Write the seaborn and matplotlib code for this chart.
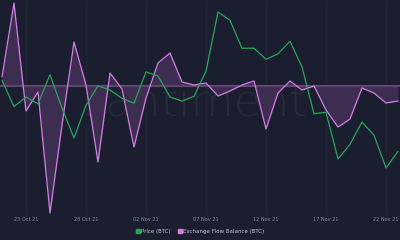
import numpy as np
import pandas as pd
import matplotlib
matplotlib.use("Agg")
import matplotlib.pyplot as plt
import matplotlib.dates as mdates
import seaborn as sns
from matplotlib.lines import Line2D

# ---- data ----
start_date = "2021-10-21"
price_btc = [62600, 60700, 61400, 60900, 63000, 60600, 58450, 60800, 62200, 61900,
             61300, 60950, 63200, 62900, 61400, 61100, 61450, 63250, 67500, 66900,
             64900, 64900, 64100, 64500, 65400, 63550, 60200, 60300, 56950, 58000,
             59600, 58650, 56300, 57500]
flow_balance = [900, 8300, -2500, -600, -12700, -3900, 4400, 100, -7600, 1300,
                -300, -6100, -1200, 2300, 3300, 400, 100, 300, -1000, -500,
                100, 500, -4300, -700, 500, -400, 0, -2400, -4100, -3300,
                -200, -700, -1700, -1500]
tick_dates = ["2021-10-23", "2021-10-28", "2021-11-02", "2021-11-07",
              "2021-11-12", "2021-11-17", "2021-11-22"]
series_names = ["Price (BTC)", "Exchange Flow Balance (BTC)"]

dates = pd.date_range(start_date, periods=len(price_btc), freq="D")
df = pd.DataFrame({"date": dates, "price": price_btc, "flow": flow_balance})

BG = "#1b1e2e"
GREEN = "#26a65b"
PURPLE = "#d47fe6"
FILL = "#3f2e52"
TXT = "#8a8d99"

sns.set_theme(style="dark")
plt.rcParams["font.family"] = ["DejaVu Sans"]

fig = plt.figure(figsize=(4, 2.4), dpi=100, facecolor=BG)
ax = fig.add_axes([0, 1 - 214 / 240, 1, 214 / 240])
ax.set_facecolor(BG)
ax2 = ax.twinx()

# flow balance with fill to zero
ax.fill_between(df["date"], df["flow"], 0, color=FILL, alpha=0.95, lw=0, zorder=1)
ax.axhline(0, color="#5e4470", lw=1.6, zorder=2)
sns.lineplot(data=df, x="date", y="flow", ax=ax, color=PURPLE, lw=0.9, zorder=3,
             legend=False)
sns.lineplot(data=df, x="date", y="price", ax=ax2, color=GREEN, lw=0.9, zorder=4,
             legend=False)

ax.set_ylim(-12800, 8600)
ax2.set_ylim(52996, 68362)
x0 = dates[0] - pd.Timedelta(hours=4)
x1 = dates[0] + pd.Timedelta(hours=24 * 398 / 12)
ax.set_xlim(x0, x1)

for a in (ax, ax2):
    a.set_xlabel("")
    a.set_ylabel("")
    a.set_yticks([])
    for s in a.spines.values():
        s.set_visible(False)

ax.set_xticks(pd.to_datetime(tick_dates))
ax.xaxis.set_major_formatter(mdates.DateFormatter("%d %b %y"))
ax.tick_params(axis="x", labelsize=3.6, colors=TXT, length=0, pad=2)
ax.grid(axis="x", color="#2a2e40", lw=0.5, ls=(0, (2, 2)))
ax.grid(axis="y", visible=False)
ax2.grid(False)

# watermark
ax.text(0.505, 0.52, "santiment.", transform=ax.transAxes, ha="center", va="center",
        fontsize=32, color="white", alpha=0.055, zorder=0, fontweight="light")

# legend
handles = [Line2D([], [], marker="s", ls="", color=GREEN, markersize=3),
           Line2D([], [], marker="s", ls="", color=PURPLE, markersize=3)]
fig.legend(handles, series_names, loc="center", bbox_to_anchor=(0.5, 1 - 231 / 240),
           ncol=2, frameon=False, fontsize=4, labelcolor="#c8cad2",
           handletextpad=0.2, columnspacing=1.2, handlelength=0.8)

fig.savefig("out.png", dpi=100, facecolor=BG)
